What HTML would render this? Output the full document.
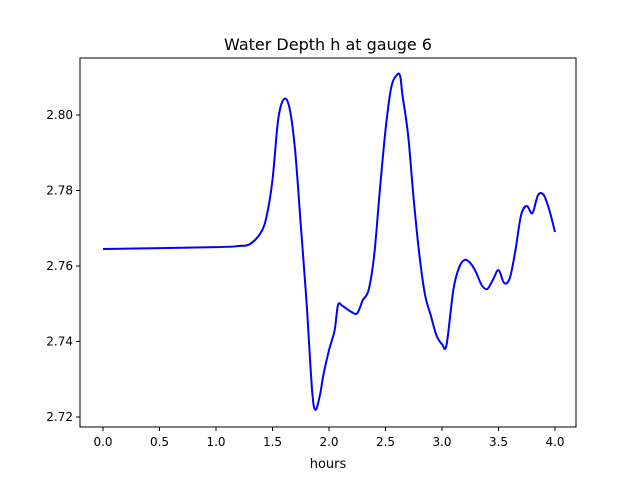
<!DOCTYPE html>
<html><head><meta charset="utf-8"><style>
body{margin:0;background:#fff;}
svg text{font-family:"DejaVu Sans","Liberation Sans",sans-serif;}
</style></head><body>
<svg id="c" width="640" height="480" xmlns="http://www.w3.org/2000/svg">
<rect width="640" height="480" fill="#fff"/>
<text x="328" y="50" font-size="16" text-anchor="middle">Water Depth h at gauge 6</text>
<g id="ticks"></g>
<path id="line" fill="none" stroke="#0000ff" stroke-width="2"/>
<rect x="80" y="58" width="496" height="369" fill="none" stroke="#000" stroke-width="1"/>
<text x="328" y="468" font-size="13" text-anchor="middle">hours</text>
</svg>
<script>
const hours=[0,1.0,1.2,1.3,1.4,1.45,1.5,1.55,1.6,1.65,1.7,1.75,1.8,1.85,1.88,1.92,1.95,2.0,2.05,2.08,2.12,2.2,2.25,2.3,2.35,2.4,2.45,2.5,2.55,2.6,2.63,2.65,2.7,2.75,2.8,2.85,2.9,2.95,3.0,3.04,3.1,3.15,3.2,3.25,3.3,3.35,3.4,3.45,3.5,3.55,3.6,3.65,3.7,3.75,3.8,3.85,3.9,3.95,4.0];
const depth=[2.7645,2.7650,2.7653,2.7658,2.7690,2.7735,2.7828,2.7987,2.8042,2.8019,2.7907,2.7709,2.7510,2.7272,2.7219,2.7258,2.7311,2.7377,2.7430,2.7497,2.7494,2.7478,2.7475,2.7510,2.7536,2.7629,2.7801,2.7960,2.8072,2.8106,2.8103,2.8053,2.7947,2.7775,2.7629,2.7523,2.7470,2.7417,2.7393,2.7391,2.7536,2.7595,2.7616,2.7608,2.7584,2.7550,2.7539,2.7563,2.7589,2.7555,2.7568,2.7642,2.7735,2.7759,2.7740,2.7788,2.7788,2.7748,2.7690];
const xTicks=[0,0.5,1.0,1.5,2.0,2.5,3.0,3.5,4.0];
const xTickLabels=["0.0","0.5","1.0","1.5","2.0","2.5","3.0","3.5","4.0"];
const yTicks=[2.72,2.74,2.76,2.78,2.80];
const yTickLabels=["2.72","2.74","2.76","2.78","2.80"];
const X=v=>103+v*113;
const Y=v=>417-(v-2.72)*3775;
const NS="http://www.w3.org/2000/svg";
const g=document.getElementById('ticks');
function mk(t,a){const e=document.createElementNS(NS,t);for(const k in a)e.setAttribute(k,a[k]);g.appendChild(e);return e;}
xTicks.forEach((t,i)=>{
 const l=mk('line',{x1:X(t),x2:X(t),y1:427,y2:431,stroke:'#000'});
 
 
 const tx=mk('text',{x:X(t),y:446,'font-size':12,'text-anchor':'middle'});
 tx.textContent=xTickLabels[i];
 
 
});
yTicks.forEach((t,i)=>{
 const l=mk('line',{x1:76,x2:80,y1:Y(t),y2:Y(t),stroke:'#000'});
 
 
 const tx=mk('text',{x:73,y:Y(t)+4,'font-size':12,'text-anchor':'end'});
 tx.textContent=yTickLabels[i];
 
 
});
const P=hours.map((h,i)=>[X(h),Y(depth[i])]);
let d='M'+P[0][0]+','+P[0][1];
for(let i=0;i<P.length-1;i++){
 const p0=P[Math.max(0,i-1)],p1=P[i],p2=P[i+1],p3=P[Math.min(P.length-1,i+2)];
 const c1=[p1[0]+(p2[0]-p0[0])/6,p1[1]+(p2[1]-p0[1])/6];
 const c2=[p2[0]-(p3[0]-p1[0])/6,p2[1]-(p3[1]-p1[1])/6];
 d+=' C'+c1.join(',')+' '+c2.join(',')+' '+p2.join(',');
}
document.getElementById('line').setAttribute('d',d);
</script>
</body></html>
